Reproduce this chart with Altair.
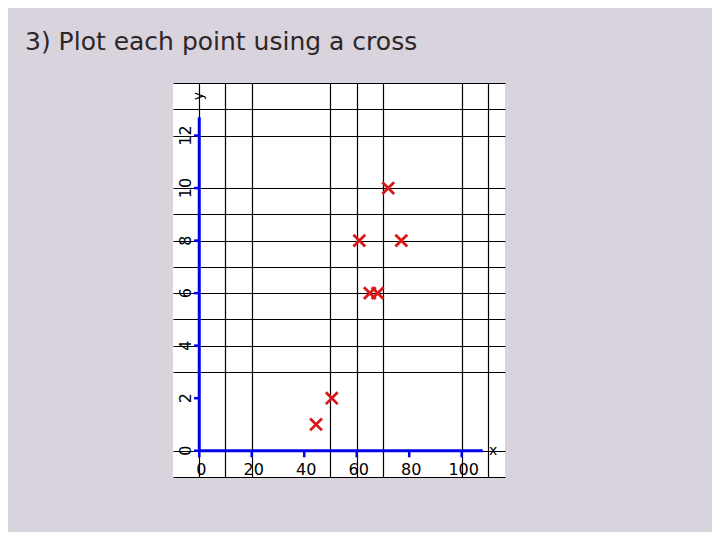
import altair as alt
import pandas as pd

title_text = "3) Plot each point using a cross"

# plotted crosses
pt_x = [44.5, 50.5, 61, 65, 68, 72, 77]
pt_y = [1, 2, 8, 6, 6, 10, 8]

# axis tick labels
x_labels = [0, 20, 40, 60, 80, 100]
y_labels = [0, 2, 4, 6, 8, 10, 12]

# graph-paper grid lines (irregular, as on the scanned sheet)
x_grid = [0, 10, 20, 50, 60, 70, 100, 110]
y_grid = [-1, 0, 3, 4, 5, 6, 7, 8, 9, 10, 12, 13, 14]

x_domain = [-10, 116.5]
y_domain = [-1, 14]

# extents of the drawn blue axes
x_axis_end = 108
y_axis_end = 12.7

axis_names = ["x", "y"]
axis_name_x = [112, 0]
axis_name_y = [0, 13.5]

BLUE = "#0000ee"
RED = "#d81818"
FONT = "DejaVu Sans"

xs = alt.Scale(domain=x_domain, nice=False, zero=False)
ys = alt.Scale(domain=y_domain, nice=False, zero=False)
xa = alt.Axis(values=x_grid, grid=True, gridColor="black", gridWidth=1.2, gridOpacity=1,
              labels=False, ticks=False, domain=False, title=None)
ya = alt.Axis(values=y_grid, grid=True, gridColor="black", gridWidth=1.2, gridOpacity=1,
              labels=False, ticks=False, domain=False, title=None)

def X(f):
    return alt.X(f, type="quantitative", scale=xs, axis=xa)

def Y(f):
    return alt.Y(f, type="quantitative", scale=ys, axis=ya)

pts = pd.DataFrame({"x": pt_x, "y": pt_y})
axes_df = pd.DataFrame({"x": [0, 0], "x2": [x_axis_end, 0], "y": [0, 0], "y2": [0, y_axis_end]})
xt_df = pd.DataFrame({"x": x_labels, "y": [0] * len(x_labels), "y2": [-0.25] * len(x_labels),
                      "t": [str(v) for v in x_labels]})
yt_df = pd.DataFrame({"y": y_labels, "x": [0] * len(y_labels), "x2": [-2] * len(y_labels),
                      "xl": [-5.0] * len(y_labels), "t": [str(v) for v in y_labels]})
nm_df = pd.DataFrame({"x": axis_name_x, "y": axis_name_y, "t": axis_names})

axes_layer = alt.Chart(axes_df).mark_rule(color=BLUE, strokeWidth=3).encode(
    x=X("x"), x2="x2", y=Y("y"), y2="y2")
xtick_layer = alt.Chart(xt_df).mark_rule(color=BLUE, strokeWidth=2.5).encode(
    x=X("x"), y=Y("y"), y2="y2")
ytick_layer = alt.Chart(yt_df).mark_rule(color=BLUE, strokeWidth=2.5).encode(
    y=Y("y"), x=X("x"), x2="x2")
xlab_layer = alt.Chart(xt_df).mark_text(font=FONT, fontSize=16, color="black", dy=19, dx=2,
                                        align="center", baseline="middle").encode(
    x=X("x"), y=Y("y"), text="t:N")
ylab_layer = alt.Chart(yt_df).mark_text(font=FONT, fontSize=16, color="black", angle=270,
                                        align="center", baseline="middle").encode(
    x=X("xl"), y=Y("y"), text="t:N")
name_x_layer = alt.Chart(nm_df.iloc[[0]]).mark_text(font=FONT, fontSize=14, color="black",
                                                   align="center", baseline="middle").encode(
    x=X("x"), y=Y("y"), text="t:N")
name_y_layer = alt.Chart(nm_df.iloc[[1]]).mark_text(font=FONT, fontSize=14, color="black", angle=270,
                                                   align="center", baseline="middle").encode(
    x=X("x"), y=Y("y"), text="t:N")
pt_layer = alt.Chart(pts).mark_point(shape="M-1,-1L1,1M-1,1L1,-1", filled=False, color=RED,
                                     strokeWidth=2.8, size=140, opacity=1).encode(
    x=X("x"), y=Y("y"))

chart = alt.layer(
    axes_layer, xtick_layer, ytick_layer, xlab_layer, ylab_layer,
    name_x_layer, name_y_layer, pt_layer
).properties(
    width=332, height=394,
    background="#d9d3de",
    title=alt.TitleParams(title_text, anchor="start", frame="group", fontSize=25, font=FONT,
                          fontWeight="normal", color="#2e2626", dx=-148, offset=8,
                          baseline="alphabetic"),
    autosize=alt.AutoSizeParams(type="none"),
    padding={"left": 165, "top": 75, "right": 207, "bottom": 55},
).configure_view(stroke=None, fill="white")

chart.save("out.html", embed_options={"renderer": "svg", "actions": False})
